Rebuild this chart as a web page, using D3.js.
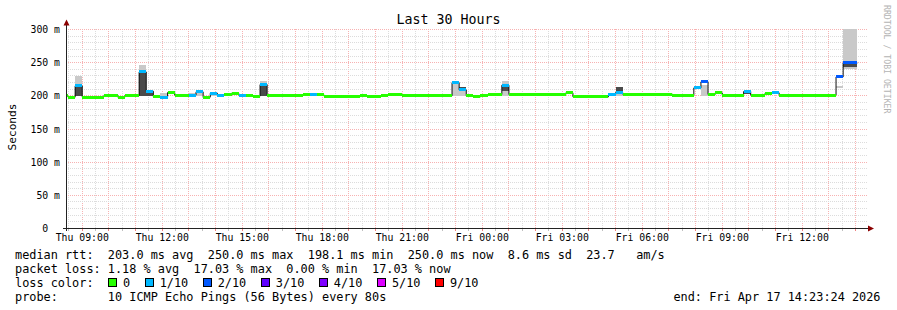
<!DOCTYPE html>
<html lang="en">
<head>
<meta charset="utf-8">
<title>Last 30 Hours</title>
<script src="https://cdn.jsdelivr.net/npm/d3@7"></script>
<style>
  body { margin: 0; background: #fff; }
  svg text { font-family: "DejaVu Sans Mono", monospace; fill: #000; white-space: pre; }
</style>
</head>
<body>
<script>
// 16 minute steps: start of each run, median rtt (ms), lost pings of 10
var segStart = ["Thu 08:12","Thu 08:28","Thu 08:44","Thu 09:00","Thu 09:48","Thu 10:04","Thu 10:20","Thu 10:36",
  "Thu 11:08","Thu 11:24","Thu 11:40","Thu 11:56","Thu 12:12","Thu 12:28","Thu 13:00","Thu 13:16","Thu 13:32",
  "Thu 13:48","Thu 14:04","Thu 14:20","Thu 14:36","Thu 14:52","Thu 15:08","Thu 15:24","Thu 15:40","Thu 15:56",
  "Thu 16:28","Thu 17:16","Thu 17:32","Thu 17:48","Thu 18:04","Thu 18:52","Thu 19:24","Thu 19:40","Thu 20:12",
  "Thu 20:28","Thu 21:00","Thu 22:52","Thu 23:08","Thu 23:24","Thu 23:40","Thu 23:56","Fri 00:12","Fri 00:44",
  "Fri 01:00","Fri 03:08","Fri 03:24","Fri 04:44","Fri 05:00","Fri 05:16","Fri 07:08","Fri 07:56","Fri 08:12",
  "Fri 08:28","Fri 08:44","Fri 09:00","Fri 09:48","Fri 10:04","Fri 10:36","Fri 10:52","Fri 11:08","Fri 13:16",
  "Fri 13:32"];
var segEnd = "Fri 14:04";
var median = [200,198,215,198,200,201,198,200.5,
  236,207,198.5,198,205,201,201,206,198,
  204,201,202,204,201,200.5,199.5,217,201,
  200,201.5,201.5,201.5,199.5,199,200,199,200,
  202,200,220,209,200,198.5,200.5,202,216,
  202,204.5,198.5,202,205,202.5,201,212,221,
  202,204.5,201,206.5,201,203.5,204.5,201,228.5,
  249.5];
var loss = [0,0,1,0,0,0,0,0,
  1,1,0,1,0,0,1,1,0,
  1,1,0,0,1,0,0,1,0,
  0,0,1,0,0,0,0,0,0,
  0,0,1,1,0,0,0,0,1,
  0,0,0,1,1,0,0,1,2,
  0,0,0,1,0,0,1,0,2,
  2];
// smoke: light outer band and dark core band [lo, hi] in ms
var smokeOuter = [null,null,[199,230],null,null,null,null,null,
  [199,247],[199,208],null,[198,205],null,null,[198,205],[200,206],null,
  [200,205],null,null,null,null,null,null,[199,223],null,
  null,null,null,null,null,null,null,null,null,
  null,null,[199,221],[199,213],null,null,null,null,[199,222],
  null,null,null,[200,204],[199,213],null,null,null,[200,216],
  null,null,null,null,null,null,null,null,[212,215],
  [240,301]];
var smokeCore = [null,null,[199,213],null,null,null,null,null,
  [199,238],[199,207],null,null,null,null,null,null,null,
  null,null,null,null,null,null,null,[199,217],null,
  null,null,null,null,null,null,null,null,null,
  null,null,null,[208,213],null,null,null,null,[207,213],
  null,null,null,null,[206,213],null,null,null,null,
  null,null,null,[203,206],null,null,null,null,null,
  [244,250]];

var yTicks = [0, 50, 100, 150, 200, 250, 300];
var yTickLabels = ["0  ", "50 m", "100 m", "150 m", "200 m", "250 m", "300 m"];
var lossLevels = [0, 1, 2, 3, 4, 5, 9];
var lossLabels = ["0", "1/10", "2/10", "3/10", "4/10", "5/10", "9/10"];
var lossColors = ["#26ff00", "#00b8ff", "#0059ff", "#5e00ff", "#7e00ff", "#dd00ff", "#ff0000"];
var legendRows = [
  "median rtt:  203.0 ms avg  250.0 ms max  198.1 ms min  250.0 ms now  8.6 ms sd  23.7   am/s",
  "packet loss: 1.18 % avg  17.03 % max  0.00 % min  17.03 % now",
  "loss color:",
  "probe:       10 ICMP Echo Pings (56 Bytes) every 80s"
];
var endLabel = "end: Fri Apr 17 14:23:24 2026";

var dayDates = { Thu: [2026, 3, 16], Fri: [2026, 3, 17] };
function parseT(s) {
  var p = s.split(" "), d = dayDates[p[0]], hm = p[1].split(":");
  return new Date(d[0], d[1], d[2], +hm[0], +hm[1], hm[2] ? +hm[2] : 0);
}

var w = 897, h = 310;
var svg = d3.select("body").append("svg").attr("width", w).attr("height", h);

var x = d3.scaleTime()
  .domain([parseT("Thu 08:23:24"), parseT("Fri 14:23:24")])
  .range([66, 866]);
var y = d3.scaleLinear().domain([0, 300]).range([228.5, 29.5]);

function px(v) { return Math.floor(v) + 0.5; }

// grid
var grid = svg.append("g").attr("shape-rendering", "crispEdges").attr("stroke-dasharray", "1,1");
grid.selectAll("line.v")
  .data(x.ticks(d3.timeMinute.every(30)))
  .enter().append("line")
  .attr("x1", function(d) { return px(x(d)); })
  .attr("x2", function(d) { return px(x(d)); })
  .attr("y1", 228).attr("y2", 28)
  .attr("stroke", function(d) { return d.getMinutes() === 0 ? "#f7b2b2" : "#dcdcdc"; });
grid.selectAll("line.h")
  .data(d3.range(10, 301, 10))
  .enter().append("line")
  .attr("x1", 66).attr("x2", 867)
  .attr("y1", function(d) { return px(y(d)); })
  .attr("y2", function(d) { return px(y(d)); })
  .attr("stroke", function(d) { return d % 50 === 0 ? "#f7b2b2" : "#dcdcdc"; });

// data
svg.append("clipPath").attr("id", "plot")
  .append("rect").attr("x", 67).attr("y", 0).attr("width", 800).attr("height", 229);
var data = svg.append("g").attr("clip-path", "url(#plot)");

var segs = segStart.map(function(s, i) {
  return {
    t0: parseT(s),
    t1: parseT(i + 1 < segStart.length ? segStart[i + 1] : segEnd),
    med: median[i], loss: loss[i], outer: smokeOuter[i], core: smokeCore[i]
  };
});

function smoke(key, color) {
  data.append("g").attr("shape-rendering", "crispEdges")
    .selectAll("rect")
    .data(segs.filter(function(d) { return d[key]; }))
    .enter().append("rect")
    .attr("x", function(d) { return x(d.t0); })
    .attr("width", function(d) { return x(d.t1) - x(d.t0); })
    .attr("y", function(d) { return y(d[key][1]); })
    .attr("height", function(d) { return y(d[key][0]) - y(d[key][1]); })
    .attr("fill", color);
}
smoke("outer", "#c9c9c9");
smoke("core", "#4a4a4a");

// thin dark step line under the median, shows at the jumps
var stepLine = d3.line()
  .x(function(d) { return x(d[0]); })
  .y(function(d) { return y(d[1]); })
  .curve(d3.curveStepAfter);

var allPts = segs.map(function(d) { return [d.t0, d.med]; });
allPts.push([segs[segs.length - 1].t1, segs[segs.length - 1].med]);
data.append("path")
  .attr("d", stepLine(allPts))
  .attr("fill", "none").attr("stroke", "#111").attr("stroke-width", 1);

// median coloured by loss, flat bars only
data.append("g").attr("shape-rendering", "crispEdges")
  .selectAll("rect")
  .data(segs)
  .enter().append("rect")
  .attr("x", function(d) { return x(d.t0); })
  .attr("width", function(d) { return x(d.t1) - x(d.t0); })
  .attr("y", function(d) { return y(d.med) - 1.5; })
  .attr("height", 3)
  .attr("fill", function(d) {
    var i = lossLevels.indexOf(d.loss);
    return lossColors[i < 0 ? 0 : i];
  });

// axes
var ax = svg.append("g").attr("shape-rendering", "crispEdges");
ax.selectAll("line.tk")
  .data(x.ticks(d3.timeMinute.every(30)))
  .enter().append("line")
  .attr("x1", function(d) { return px(x(d)); })
  .attr("x2", function(d) { return px(x(d)); })
  .attr("y1", 229).attr("y2", 231)
  .attr("stroke", function(d) { return d.getMinutes() === 0 ? "#f08080" : "#c0c0c0"; });
ax.append("line").attr("x1", 63).attr("x2", 868).attr("y1", 228.5).attr("y2", 228.5).attr("stroke", "#222");
ax.append("line").attr("x1", 66.5).attr("x2", 66.5).attr("y1", 231).attr("y2", 24).attr("stroke", "#222");
svg.append("path").attr("d", "M63.5,25.5L69.5,25.5L66.5,19.5Z").attr("fill", "#8b0000");
svg.append("path").attr("d", "M868,225.5L868,231.5L874,228.5Z").attr("fill", "#8b0000");

svg.selectAll("text.xl")
  .data(x.ticks(d3.timeHour.every(3)))
  .enter().append("text")
  .attr("x", function(d) { return x(d); })
  .attr("y", 240.5)
  .attr("text-anchor", "middle")
  .attr("font-size", "9.8px")
  .text(d3.timeFormat("%a %H:%M"));

svg.selectAll("text.yl")
  .data(yTicks)
  .enter().append("text")
  .attr("x", 60)
  .attr("y", function(d) { return px(y(d)) + 3.6; })
  .attr("text-anchor", "end")
  .attr("font-size", "9.8px")
  .text(function(d, i) { return yTickLabels[i]; });

// titles
svg.append("text").attr("x", 448.5).attr("y", 24)
  .attr("text-anchor", "middle").attr("font-size", "13.3px").text("Last 30 Hours");
svg.append("text").attr("transform", "translate(15.5,127) rotate(-90)")
  .attr("text-anchor", "middle").attr("font-size", "11.2px").text("Seconds");
svg.append("text").attr("transform", "translate(884,5) rotate(90)")
  .attr("font-size", "8.2px").style("fill", "#b4b4b4").text("RRDTOOL / TOBI OETIKER");

// legend
svg.selectAll("text.lg")
  .data(legendRows)
  .enter().append("text")
  .attr("x", 15)
  .attr("y", function(d, i) { return 258.5 + 14 * i; })
  .attr("font-size", "11.86px")
  .text(function(d) { return d; });

var cw = 7.14, bx = 108.5;
lossLabels.forEach(function(lab, i) {
  svg.append("rect").attr("x", bx).attr("y", 278.5).attr("width", 8).attr("height", 8)
    .attr("fill", lossColors[i]).attr("stroke", "#000").attr("shape-rendering", "crispEdges");
  svg.append("text").attr("x", bx + 14.5).attr("y", 286.5).attr("font-size", "11.86px").text(lab);
  bx += 15 + lab.length * cw + 14.5;
});

svg.append("text").attr("x", 880.5).attr("y", 300.5)
  .attr("text-anchor", "end").attr("font-size", "11.86px").text(endLabel);
</script>
</body>
</html>
